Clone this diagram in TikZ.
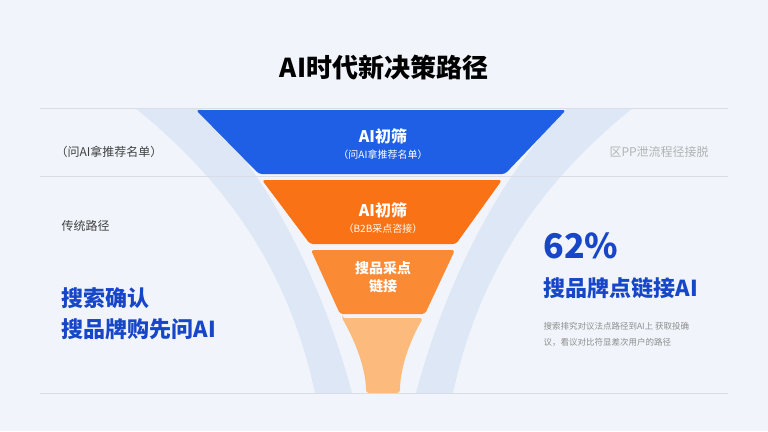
\documentclass[tikz,border=0pt]{standalone}
\usepackage{fontspec}
\setmainfont{Noto Sans CJK SC}
\usetikzlibrary{positioning}
\definecolor{bgblue}{HTML}{F1F5FB}
\definecolor{swoosh}{HTML}{DDE7F6}
\definecolor{funblue}{HTML}{1E5FE6}
\definecolor{orA}{HTML}{F97316}
\definecolor{orB}{HTML}{FB8A35}
\definecolor{orC}{HTML}{FDBA7D}
\definecolor{txtblue}{HTML}{1746C8}
\definecolor{rule}{HTML}{D9DEE6}

\begin{document}
\begin{tikzpicture}[x=1pt,y=-1pt,
    seg/.style={rounded corners=3pt, draw=none},
    lbl/.style={text=white, font=\bfseries\fontsize{16}{18}\selectfont, align=center},
    sub/.style={text=white, font=\fontsize{10}{12}\selectfont},
    side/.style={text=black!75, font=\fontsize{12}{14}\selectfont, anchor=west},
    big/.style={text=txtblue, font=\bfseries\fontsize{22}{31}\selectfont, anchor=west, align=left},
    note/.style={text=black!45, font=\fontsize{8.5}{16}\selectfont, anchor=west, align=left}]
    \fill[bgblue] (0,0) rectangle (768,431);
    \useasboundingbox (0,0) rectangle (768,431);

    % swooshes
    \fill[swoosh] (135,108) .. controls (250,200) and (295,300) .. (315,393)
        -- (352,393) .. controls (322,280) and (265,170) .. (200,108) -- cycle;
    \fill[swoosh] (633,108) .. controls (518,200) and (473,300) .. (453,393)
        -- (416,393) .. controls (446,280) and (503,170) .. (568,108) -- cycle;

    % rules
    \draw[rule] (40,108) -- (728,108);
    \draw[rule] (40,176) -- (728,176);
    \draw[rule] (40,393) -- (728,393);

    % title
    \node[font=\bfseries\fontsize{26}{30}\selectfont] (title) at (384,68) {AI时代新决策路径};

    % funnel
    \fill[seg, funblue] (196,110) -- (566,110) -- (505,174) -- (259,174) -- cycle;
    \fill[seg, orA] (262,180) -- (502,180) -- (456,244) -- (310,244) -- cycle;
    \fill[seg, orB] (311,250) -- (455,250) -- (425,314) -- (340,314) -- cycle;
    \fill[seg, orC] (342,318) -- (423,318) .. controls (405,350) and (400,375) .. (400,393)
        -- (366,393) .. controls (366,375) and (360,350) .. cycle;

    \node[lbl] (s1) at (383,136) {AI初筛};
    \node[sub, below=-1pt of s1] (s1b) {（问AI拿推荐名单）};
    \node[lbl] (s2) at (383,210) {AI初筛};
    \node[sub, below=-1pt of s2] (s2b) {（B2B采点咨接）};
    \node[lbl, font=\bfseries\fontsize{14}{18}\selectfont] (s3) at (383,277) {搜品采点\\链接};

    % left
    \node[side] (l1) at (52,152) {（问AI拿推荐名单）};
    \node[side] (l2) at (58,226) {传统路径};
    \node[big] (l3) at (58,314) {搜索确认\\搜品牌购先问AI};

    % right
    \node[side, text=black!30] (r1) at (606,152) {区PP泄流程径接脱};
    \node[big, font=\bfseries\fontsize{34}{36}\selectfont] (r2) at (540,246) {62\%};
    \node[big] (r3) at (540,288) {搜品牌点链接AI};
    \node[note] (r4) at (540,334) {搜索排究对议法点路径到AI上 获取投确\\议，看议对比符显差次用户的路径};
\end{tikzpicture}
\end{document}
